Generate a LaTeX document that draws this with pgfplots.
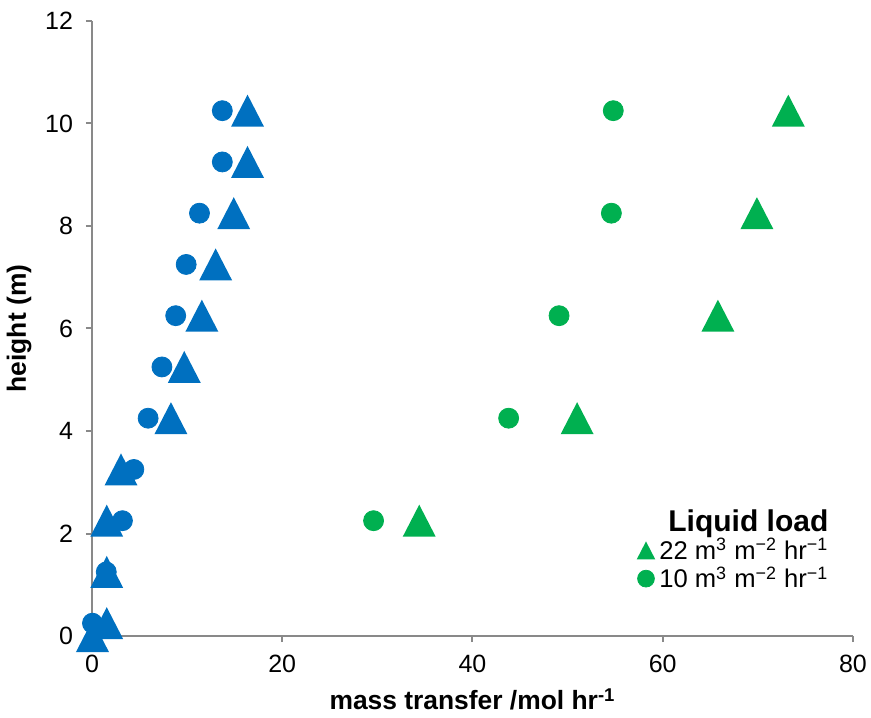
\documentclass[border=0pt]{standalone}
\usepackage{pgfplots}
\pgfplotsset{compat=1.18}
\usepackage{fontspec}
\setmainfont{Liberation Sans}

\definecolor{xlblue}{HTML}{0070C0}
\definecolor{xlgreen}{HTML}{00B050}
\definecolor{axgray}{HTML}{898989}

% triangle centred on its bounding box, like the spreadsheet marker
\pgfdeclareplotmark{xtri}{%
  \pgfpathmoveto{\pgfqpoint{0pt}{\pgfplotmarksize}}%
  \pgfpathlineto{\pgfqpoint{1.03\pgfplotmarksize}{-\pgfplotmarksize}}%
  \pgfpathlineto{\pgfqpoint{-1.03\pgfplotmarksize}{-\pgfplotmarksize}}%
  \pgfpathclose
  \pgfusepathqfill}

% blue, triangles
\pgfplotstableread{
x y
0.05 0.0
1.55 0.25
1.55 1.25
1.55 2.25
3.05 3.25
8.3 4.25
9.7 5.25
11.55 6.25
13.0 7.25
14.9 8.25
16.35 9.25
16.35 10.25
}\bluetri
% blue, circles
\pgfplotstableread{
x y
0.05 0.25
1.5 1.25
3.2 2.25
4.4 3.25
5.9 4.25
7.35 5.25
8.8 6.25
9.9 7.25
11.3 8.25
13.7 9.25
13.7 10.25
}\bluecirc
% green, 22 m3 m-2 hr-1
\pgfplotstableread{
x y
34.4 2.25
51.0 4.25
65.8 6.25
69.9 8.25
73.2 10.25
}\greentri
% green, 10 m3 m-2 hr-1
\pgfplotstableread{
x y
29.6 2.25
43.8 4.25
49.1 6.25
54.6 8.25
54.8 10.25
}\greencirc

\begin{document}
\begin{tikzpicture}
\begin{axis}[
  scale only axis, width=380.5pt, height=307.5pt,
  xmin=0, xmax=80, ymin=0, ymax=12,
  xtick={0,20,...,80}, ytick={0,2,...,12},
  axis x line=bottom, axis y line=left,
  axis line style={axgray, line width=1pt, -},
  tick style={axgray, line width=1pt},
  tick align=outside, major tick length=3pt,
  /pgf/number format/assume math mode=true,
  ticklabel style={font=\fontsize{12.5}{14}\selectfont},
  xticklabel style={yshift=-3pt},
  yticklabel style={xshift=-3pt},
  xlabel={\textbf{mass transfer /mol hr\textsuperscript{-1}}},
  ylabel={\textbf{height (m)}},
  label style={font=\fontsize{13.2}{15}\selectfont},
  xlabel style={yshift=-1pt},
  clip=false,
  legend cell align=right,
  legend style={draw=none, fill=none, at={(0.976,0.216)}, anchor=north east,
    font=\fontsize{12.8}{15}\selectfont, row sep=-2pt, inner sep=1pt},
]
\addlegendimage{empty legend}
\addlegendentry{\fontsize{15}{16}\selectfont\textbf{Liquid load}}
\addlegendimage{only marks, mark=xtri, mark size=4.5pt, color=xlgreen}
\addlegendentry{22 m\textsuperscript{3} m\textsuperscript{−2} hr\textsuperscript{−1}}
\addlegendimage{only marks, mark=*, mark size=4.2pt, color=xlgreen}
\addlegendentry{10 m\textsuperscript{3} m\textsuperscript{−2} hr\textsuperscript{−1}}

\addplot[forget plot, only marks, mark=*, mark size=5pt, color=xlblue] table {\bluecirc};
\addplot[forget plot, only marks, mark=xtri, mark size=8pt, color=xlblue] table {\bluetri};
\addplot[forget plot, only marks, mark=*, mark size=5pt, color=xlgreen] table {\greencirc};
\addplot[forget plot, only marks, mark=xtri, mark size=8pt, color=xlgreen] table {\greentri};
\end{axis}
\pgfresetboundingbox
\path ([shift={(-46pt,-40.5pt)}]current axis.south west) rectangle ([shift={(9pt,10.5pt)}]current axis.north east);
\end{tikzpicture}
\end{document}
